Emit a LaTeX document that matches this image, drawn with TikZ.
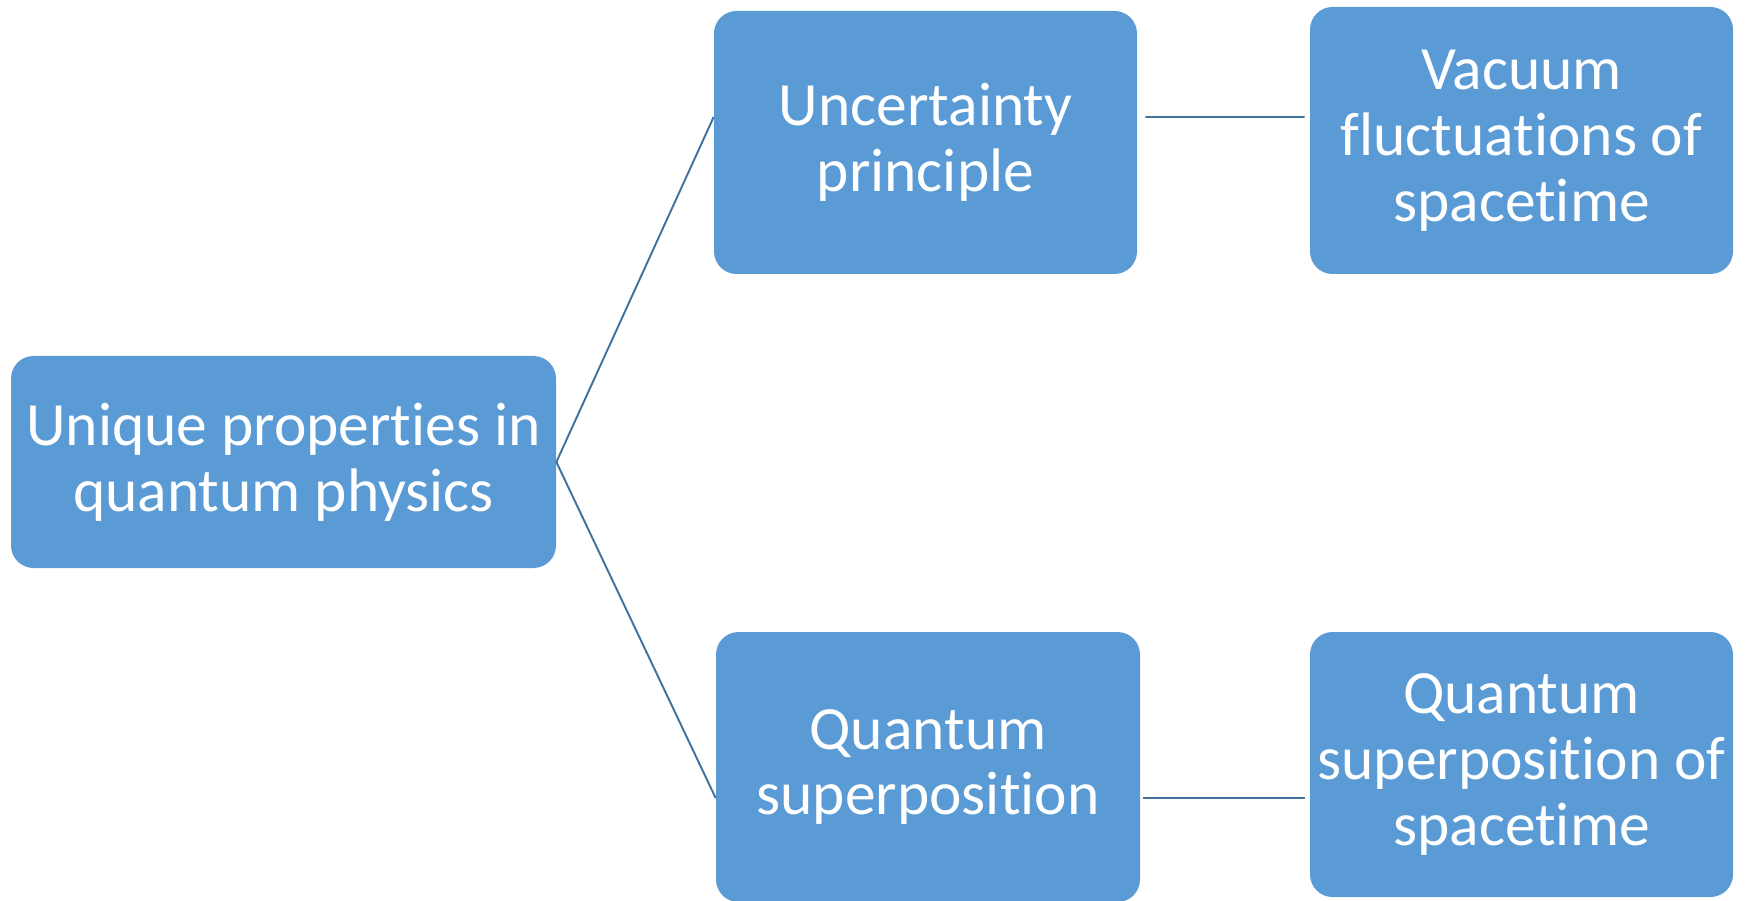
\documentclass[tikz,border=0pt]{standalone}
\usepackage{fontspec}
\setmainfont{Carlito}[Ligatures=NoCommon]
\definecolor{boxblue}{HTML}{5B9BD5}
\definecolor{linkblue}{HTML}{41719C}
\begin{document}
\begin{tikzpicture}[
    box/.style={fill=boxblue, rounded corners=0.45cm, text=white, align=center,
      font=\fontsize{35}{37.5}\selectfont, inner sep=0pt},
    link/.style={draw=linkblue, line width=1.1pt}
  ]
      \useasboundingbox (0,0) rectangle (34.9,-18.02);

      % Root
      \node[box, minimum width=10.9cm, minimum height=4.24cm] (root) at (5.67,-9.24)
        {Unique properties in\\quantum physics};

      % Middle column
      \node[box, minimum width=8.46cm, minimum height=5.26cm] (unc) at (18.51,-2.85)
        {Uncertainty\\principle};
      \node[box, minimum width=8.48cm, minimum height=5.4cm] (sup) at (18.56,-15.34)
        {Quantum\\superposition};

      % Right column
      \node[box, minimum width=8.46cm, minimum height=5.34cm] (vac) at (30.43,-2.81)
        {Vacuum\\fluctuations of\\spacetime};
      \node[box, minimum width=8.46cm, minimum height=5.3cm] (sst) at (30.43,-15.29)
        {Quantum\\superposition of\\spacetime};

      % Links
      \draw[link] (root.east) -- ([yshift=0.51cm]unc.west);
      \draw[link] (root.east) -- ([yshift=-0.62cm]sup.west);
      \draw[link] ([xshift=0.16cm,yshift=0.51cm]unc.east) -- ([xshift=-0.1cm,yshift=0.47cm]vac.west);
      \draw[link] ([xshift=0.05cm,yshift=-0.62cm]sup.east) -- ([xshift=-0.1cm,yshift=-0.67cm]sst.west);
    \end{tikzpicture}
\end{document}
